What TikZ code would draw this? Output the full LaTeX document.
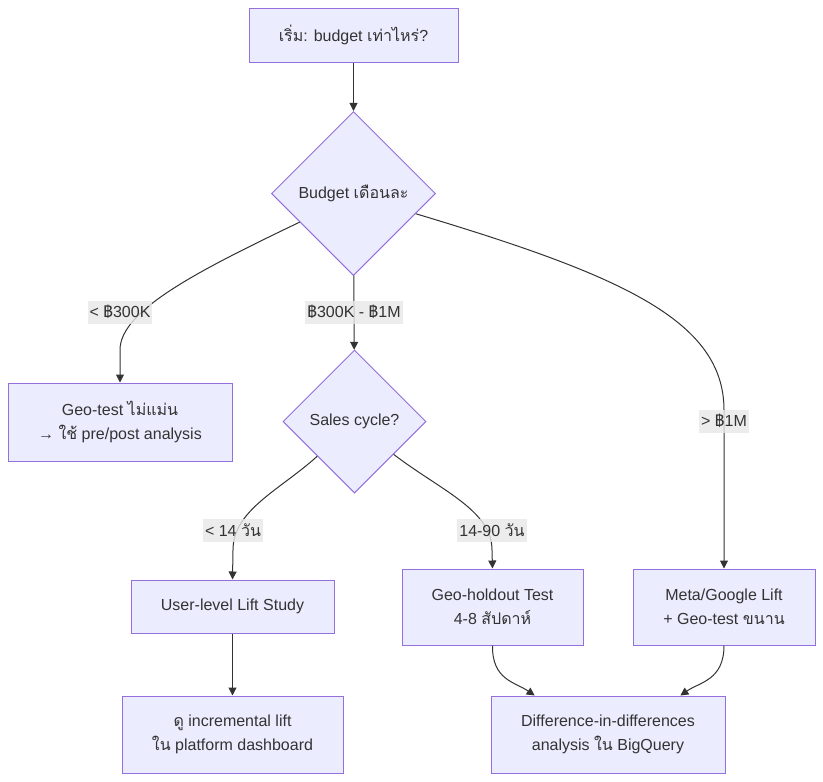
\documentclass[tikz,border=0pt]{standalone}
\usepackage{fontspec}
\setmainfont{Liberation Sans}
\newfontfamily\thaifont[Script=Thai]{Loma}
\newcommand\tha[1]{{\thaifont #1}}
\usetikzlibrary{shapes.geometric,arrows.meta,calc}
\definecolor{nodefill}{HTML}{ECECFF}
\definecolor{nodeline}{HTML}{9370DB}
\definecolor{txt}{HTML}{333333}
\definecolor{lblbg}{HTML}{E8E8E8}
\tikzset{
  box/.style={draw=nodeline, fill=nodefill, line width=1pt, text=txt, align=center, inner sep=0pt},
  dia/.style={diamond, draw=nodeline, fill=nodefill, line width=1pt, text=txt, align=center, inner sep=0pt, aspect=1},
  lbl/.style={fill=lblbg, fill opacity=0.8, text opacity=1, text=txt, inner xsep=2pt, inner ysep=0pt, minimum height=23pt},
  conn/.style={draw=txt, line width=1pt, -{Triangle[length=8pt,width=8pt]}},
}
\begin{document}
\begin{tikzpicture}[x=1pt,y=-1pt,font=\fontsize{16}{24}\selectfont]
\useasboundingbox[fill=white] (0,0) rectangle (823,782);
% nodes
\node[box, minimum width=209pt, minimum height=54pt] (start) at (353.5,35) {\tha{เริ่ม}: budget \tha{เท่าไหร่}?};
\node[dia, minimum width=164pt, minimum height=164pt] (budget) at (353.5,193.5) {Budget \tha{เดือนละ}};
\node[box, minimum width=224pt, minimum height=78pt] (geo) at (120,422) {Geo-test \tha{ไม่แม่น}\\→ \tha{ใช้} pre/post analysis};
\node[dia, minimum width=143pt, minimum height=143pt] (sales) at (354.5,421.5) {Sales cycle?};
\node[box, minimum width=203pt, minimum height=53pt] (user) at (232.5,606.5) {User-level Lift Study};
\node[box, minimum width=181pt, minimum height=76pt] (hold) at (492.5,607) {Geo-holdout Test\\4-8 \tha{สัปดาห์}};
\node[box, minimum width=182pt, minimum height=76pt] (meta) at (724,607) {Meta/Google Lift\\+ Geo-test \tha{ขนาน}};
\node[box, minimum width=221pt, minimum height=77pt] (look) at (232.5,734.5) {\tha{ดู} incremental lift\\\tha{ใน} platform dashboard};
\node[box, minimum width=234pt, minimum height=77pt] (did) at (608,734.5) {Difference-in-differences\\analysis \tha{ใน} BigQuery};
\coordinate (didL) at ($(did.north west)!0.188!(did.north east)$);
\coordinate (didR) at ($(did.north west)!0.808!(did.north east)$);
% connectors
\draw[conn] (start) -- (budget);
\draw[conn] (budget.208) .. controls (200,270) and (120,310) .. (120,350) -- (geo.north);
\draw[conn] (budget) -- (sales);
\draw[conn] (budget.-18) .. controls (620,275) and (724,320) .. (724,410) -- (meta.north);
\draw[conn] (sales.223) .. controls (280,490) and (233,510) .. (233,550) -- (user.north);
\draw[conn] (sales.-40) .. controls (440,490) and (492,510) .. (492,550) -- (hold.north);
\draw[conn] (user) -- (look);
\draw[conn] (hold.south) .. controls (492,680) and (515,682) .. (didL);
\draw[conn] (meta.south) .. controls (724,680) and (700,682) .. (didR);
% edge labels
\node[lbl] (l1) at (120,312) {< \tha{฿}300K};
\node[lbl] (l2) at (354,312) {\tha{฿}300K - \tha{฿}1M};
\node[lbl] (l3) at (724,421) {> \tha{฿}1M};
\node[lbl] (l4) at (233,530) {< 14 \tha{วัน}};
\node[lbl] (l5) at (492,530) {14-90 \tha{วัน}};
\end{tikzpicture}
\end{document}
